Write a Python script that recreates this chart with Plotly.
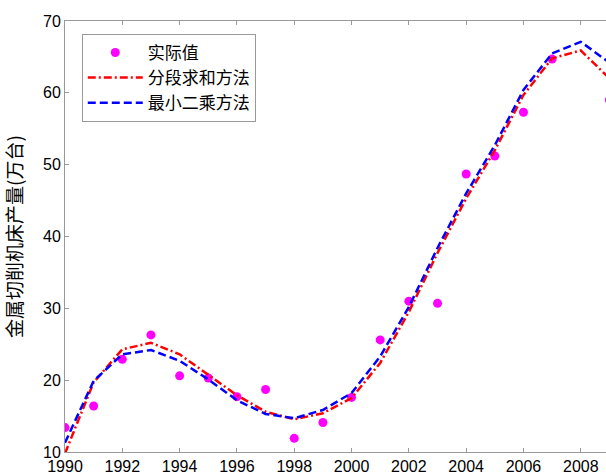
import plotly.graph_objects as go

years = list(range(1990, 2010))
actual = [13.4, 16.4, 22.9, 26.3, 20.6, 20.3, 17.7, 18.7, 11.9, 14.1,
          17.6, 25.6, 31.0, 30.7, 48.7, 51.2, 57.3, 64.7, None, 59.0]
piecewise = [9.8, 19.7, 24.3, 25.2, 23.6, 20.8, 17.9, 15.6, 14.55, 15.4,
             17.5, 22.4, 29.5, 37.7, 45.3, 52.0, 59.7, 64.8, 65.9, 62.0]
lsq = [11.3, 19.9, 23.6, 24.2, 22.7, 20.1, 17.2, 15.3, 14.7, 15.85,
       18.2, 23.3, 30.2, 38.4, 46.0, 52.7, 60.4, 65.5, 67.1, 64.2]

names = ["实际值", "分段求和方法", "最小二乘方法"]
x_ticks = list(range(1990, 2010, 2))
y_ticks = list(range(10, 80, 10))

fig = go.Figure()
fig.add_trace(go.Scatter(x=years, y=actual, mode="markers", name=names[0],
                         marker=dict(color="#FF00FF", size=9)))
fig.add_trace(go.Scatter(x=years, y=piecewise, mode="lines", name=names[1],
                         line=dict(color="#FF0000", width=2.5, dash="8px,3px,2px,3px")))
fig.add_trace(go.Scatter(x=years, y=lsq, mode="lines", name=names[2],
                         line=dict(color="#0000FF", width=2.5, dash="8px,4px")))

axis_common = dict(showgrid=False, zeroline=False, showline=True, linecolor="#999999",
                   linewidth=1, ticks="inside", ticklen=4, tickcolor="#999999",
                   automargin=False,
                   tickfont=dict(family="Liberation Sans, Arial", size=16, color="black"))

fig.update_xaxes(range=[1990, 2008.88], tickvals=x_ticks, mirror="ticks", **axis_common)
fig.update_yaxes(range=[10, 70], tickvals=y_ticks, mirror=False,
                 title=dict(text="金属切削机床产量(万台)",
                            font=dict(family="Noto Sans CJK SC", size=19, color="black")),
                 **axis_common)

fig.update_layout(
    width=606, height=474,
    margin=dict(l=65, r=0, t=21, b=22),
    plot_bgcolor="white", paper_bgcolor="white",
    legend=dict(x=0.031, y=0.97, xanchor="left", yanchor="top",
                bgcolor="white", bordercolor="#999999", borderwidth=1,
                font=dict(family="Noto Sans CJK SC", size=17, color="black"),
                itemwidth=55),
)

fig.write_html("out.html", config={"displayModeBar": False},
               post_script="document.body.style.margin='0';document.body.style.overflow='hidden';")
